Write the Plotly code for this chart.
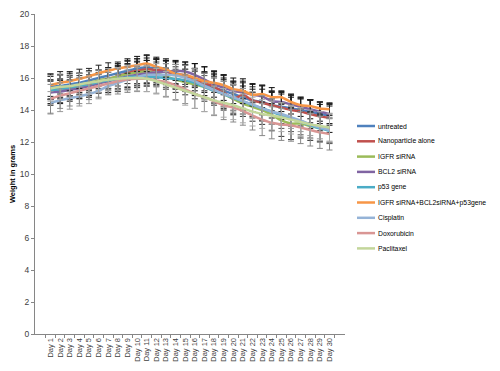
import plotly.graph_objects as go

days = ["Day %d" % i for i in range(1, 31)]

untreated = [15.45, 15.5, 15.6, 15.7, 15.85, 16.0, 16.15, 16.3, 16.45, 16.6, 16.65, 16.6, 16.5, 16.3, 16.15, 15.9, 15.6, 15.4, 15.2, 15.0, 14.8, 14.6, 14.5, 14.3, 14.2, 14.1, 14.0, 13.9, 13.75, 13.65]
nanoparticle = [15.2, 15.3, 15.35, 15.5, 15.6, 15.8, 15.95, 16.1, 16.3, 16.45, 16.55, 16.5, 16.4, 16.2, 16.1, 15.9, 15.7, 15.45, 15.1, 14.7, 14.95, 14.6, 14.45, 14.3, 14.15, 14.0, 13.9, 13.75, 13.6, 13.5]
igfr = [15.3, 15.35, 15.45, 15.55, 15.7, 15.85, 15.95, 16.1, 16.25, 16.35, 16.4, 16.3, 16.1, 15.9, 15.75, 15.6, 15.45, 15.2, 15.0, 14.7, 14.4, 14.2, 14.0, 13.7, 13.35, 13.15, 13.15, 13.0, 12.9, 12.85]
bcl2 = [15.1, 15.15, 15.25, 15.35, 15.5, 15.65, 15.8, 15.95, 16.1, 16.2, 16.3, 16.35, 16.4, 16.45, 16.4, 16.2, 15.9, 15.6, 15.4, 15.2, 15.1, 14.95, 14.85, 14.55, 14.5, 14.35, 14.2, 14.05, 13.9, 13.75]
p53 = [15.25, 15.3, 15.4, 15.5, 15.6, 15.75, 15.85, 15.95, 16.05, 16.1, 16.1, 16.05, 16.0, 15.95, 15.85, 15.7, 15.45, 15.2, 15.0, 14.75, 14.55, 14.3, 14.1, 13.9, 13.65, 13.45, 13.25, 13.05, 12.85, 12.7]
combo = [15.55, 15.7, 15.8, 15.95, 16.1, 16.3, 16.45, 16.6, 16.7, 16.8, 16.9, 16.7, 16.55, 16.25, 16.2, 16.0, 15.8, 15.7, 15.55, 15.3, 15.2, 14.95, 15.0, 14.8, 14.8, 14.5, 14.3, 14.25, 14.1, 14.05]
cisplatin = [14.45, 14.6, 14.75, 14.85, 15.0, 15.2, 15.5, 15.7, 15.9, 16.05, 16.2, 16.2, 16.2, 16.15, 16.0, 15.8, 15.5, 15.25, 15.0, 14.8, 14.55, 14.35, 14.1, 13.9, 13.75, 13.55, 13.35, 13.1, 12.9, 12.75]
doxorubicin = [14.7, 14.9, 15.05, 15.2, 15.35, 15.5, 15.65, 15.8, 15.9, 15.95, 15.95, 15.85, 15.75, 15.55, 15.3, 15.0, 14.8, 14.55, 14.3, 14.15, 13.95, 13.65, 13.4, 13.2, 13.1, 13.05, 12.9, 12.75, 12.6, 12.5]
paclitaxel = [15.35, 15.45, 15.5, 15.6, 15.7, 15.8, 15.9, 15.95, 16.0, 16.0, 15.95, 15.8, 15.6, 15.4, 15.2, 15.0, 14.8, 14.6, 14.45, 14.3, 14.1, 13.9, 13.75, 13.65, 13.55, 13.4, 13.25, 13.1, 13.0, 12.9]

err_untreated = [0.8, 0.7, 0.7, 0.6, 0.6, 0.5, 0.5, 0.5, 0.6, 0.6, 0.6, 0.6, 0.6, 0.7, 0.7, 0.7, 0.7, 0.8, 0.8, 0.8, 0.7, 0.7, 0.8, 0.8, 0.8, 0.7, 0.7, 0.7, 0.6, 0.6]
err_nano = [0.9, 0.9, 0.8, 0.8, 0.8, 0.7, 0.7, 0.8, 0.9, 0.9, 0.9, 0.8, 0.8, 0.9, 0.9, 1.0, 1.0, 1.0, 1.1, 1.0, 1.0, 1.0, 1.1, 1.1, 1.0, 1.0, 0.9, 0.9, 0.9, 0.9]
err_igfr = [0.6, 0.6, 0.6, 0.6, 0.5, 0.5, 0.6, 0.6, 0.6, 0.7, 0.7, 0.7, 0.8, 0.8, 0.8, 0.9, 0.9, 0.9, 0.9, 0.9, 0.8, 0.9, 0.9, 1.0, 1.0, 1.0, 0.9, 0.9, 0.9, 0.9]
err_bcl2 = [0.7, 0.7, 0.6, 0.6, 0.6, 0.6, 0.7, 0.8, 0.8, 0.8, 0.8, 0.8, 0.7, 0.6, 0.6, 0.7, 0.8, 0.8, 0.8, 0.8, 0.7, 0.7, 0.7, 0.6, 0.6, 0.6, 0.6, 0.6, 0.6, 0.6]
err_p53 = [0.6, 0.6, 0.5, 0.5, 0.5, 0.5, 0.5, 0.6, 0.6, 0.6, 0.6, 0.6, 0.6, 0.6, 0.7, 0.7, 0.7, 0.8, 0.8, 0.8, 0.8, 0.8, 0.8, 0.8, 0.8, 0.8, 0.8, 0.8, 0.8, 0.8]
err_combo = [0.7, 0.7, 0.6, 0.6, 0.5, 0.5, 0.5, 0.4, 0.4, 0.4, 0.5, 0.5, 0.5, 0.6, 0.6, 0.6, 0.6, 0.6, 0.6, 0.5, 0.5, 0.5, 0.5, 0.4, 0.4, 0.4, 0.4, 0.4, 0.4, 0.4]
err_cis = [0.7, 0.7, 0.7, 0.6, 0.6, 0.5, 0.5, 0.5, 0.6, 0.6, 0.6, 0.7, 0.7, 0.7, 0.8, 0.8, 0.8, 0.8, 0.8, 0.8, 0.8, 0.8, 0.8, 0.8, 0.7, 0.7, 0.7, 0.7, 0.7, 0.7]
err_doxo = [0.9, 0.8, 0.8, 0.8, 0.7, 0.7, 0.7, 0.8, 0.8, 0.8, 0.8, 0.8, 0.9, 0.9, 0.9, 0.9, 0.9, 0.9, 0.9, 0.9, 0.9, 0.9, 1.0, 1.0, 1.0, 1.0, 1.0, 1.0, 1.0, 1.0]
err_pacli = [0.8, 0.8, 0.7, 0.7, 0.7, 0.7, 0.7, 0.7, 0.8, 0.8, 0.8, 0.8, 0.8, 0.8, 0.9, 0.9, 0.9, 0.9, 0.9, 0.9, 0.9, 0.9, 0.9, 0.9, 0.9, 0.9, 0.9, 0.9, 0.9, 0.9]

names = ["untreated", "Nanoparticle alone", "IGFR siRNA", "BCL2 siRNA", "p53 gene",
         "IGFR siRNA+BCL2siRNA+p53gene", "Cisplatin", "Doxorubicin", "Paclitaxel"]
series = [untreated, nanoparticle, igfr, bcl2, p53, combo, cisplatin, doxorubicin, paclitaxel]
errors = [err_untreated, err_nano, err_igfr, err_bcl2, err_p53, err_combo, err_cis, err_doxo, err_pacli]
colors = ["#4F81BD", "#C0504D", "#9BBB59", "#8064A2", "#4BACC6", "#F79646", "#95B3D7", "#D99694", "#C3D69B"]
err_colors = ["#111111", "#111111", "#333333", "#111111", "#555555", "#222222", "#999999", "#888888", "#aaaaaa"]

# figure geometry (the page body has an 8px margin, so the figure is 8px smaller)
OFF = 8
W, H = 500 - OFF, 371 - OFF
ML, MR, MT, MB = 35 - OFF, 155, 14 - OFF, 37
PW, PH = W - ML - MR, H - MT - MB

fig = go.Figure()
for n, s, e, c, ec in zip(names, series, errors, colors, err_colors):
    fig.add_trace(go.Scatter(
        x=days, y=s, name=n, mode="lines",
        line=dict(color=c, width=2.5, shape="spline", smoothing=0.5),
        error_y=dict(type="data", array=e, visible=True, color=ec, thickness=1, width=3),
    ))

# legend drawn as shapes + text so that entry spacing matches the original
leg_x0, leg_x1, leg_tx, leg_y0, leg_dy = 357 - OFF, 375 - OFF, 376 - OFF, 126 - OFF, 15.3
for i, (n, c) in enumerate(zip(names, colors)):
    py = leg_y0 + leg_dy * i
    yy = (H - MB - py) / PH
    fig.add_shape(type="line", xref="paper", yref="paper",
                  x0=(leg_x0 - ML) / PW, x1=(leg_x1 - ML) / PW, y0=yy, y1=yy,
                  line=dict(color=c, width=2.5))
    fig.add_annotation(xref="paper", yref="paper", x=(leg_tx - ML) / PW, y=yy,
                       xanchor="left", yanchor="middle", text=n, showarrow=False,
                       font=dict(family="Liberation Sans, Arial, sans-serif", size=6.8, color="#000000"))

fig.update_layout(
    width=W, height=H,
    margin=dict(l=ML, r=MR, t=MT, b=MB, autoexpand=False),
    paper_bgcolor="white", plot_bgcolor="white",
    font=dict(family="Liberation Sans, Arial, sans-serif", size=8, color="#404040"),
    showlegend=False,
    xaxis=dict(type="category", showgrid=False, showline=True, linecolor="#868686", linewidth=1,
               ticks="outside", ticklen=3, tickcolor="#868686", tickson="boundaries",
               tickmode="linear", dtick=1, automargin=False,
               tickangle=-90, tickfont=dict(size=7.5, color="#404040")),
    yaxis=dict(range=[0, 20], dtick=2, showgrid=False, showline=True, linecolor="#868686",
               linewidth=1, ticks="outside", ticklen=3, tickcolor="#868686", automargin=False,
               tickfont=dict(size=8.5, color="#404040"), zeroline=False,
               title=dict(text="<b>Weight in grams</b>", font=dict(size=7.5, color="#000000"), standoff=5)),
)

fig.write_html("out.html")
